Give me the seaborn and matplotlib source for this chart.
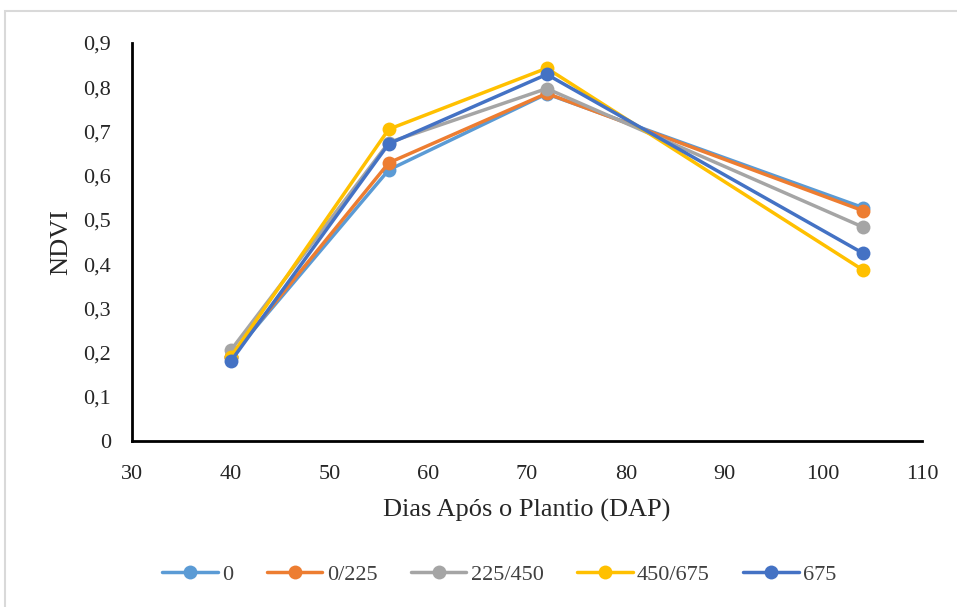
import matplotlib
matplotlib.use("Agg")
import matplotlib.pyplot as plt
import seaborn as sns
import pandas as pd
from matplotlib.ticker import FuncFormatter
from matplotlib.patches import Rectangle

dap = [40, 56, 72, 104]
series_names = ["0", "0/225", "225/450", "450/675", "675"]
ndvi_0 = [0.19, 0.613, 0.785, 0.528]
ndvi_0_225 = [0.19, 0.629, 0.786, 0.521]
ndvi_225_450 = [0.205, 0.675, 0.797, 0.484]
ndvi_450_675 = [0.19, 0.705, 0.843, 0.387]
ndvi_675 = [0.18, 0.672, 0.829, 0.425]
colors = ["#5B9BD5", "#ED7D31", "#A5A5A5", "#FFC000", "#4472C4"]

all_vals = [ndvi_0, ndvi_0_225, ndvi_225_450, ndvi_450_675, ndvi_675]
rows = []
for name, vals in zip(series_names, all_vals):
    for d, v in zip(dap, vals):
        rows.append({"DAP": d, "NDVI": v, "Trat": name})
df = pd.DataFrame(rows)

sns.set_theme(style="white")
plt.rcParams["font.family"] = ["Liberation Serif", "DejaVu Serif"]

fig = plt.figure(figsize=(9.57, 6.07), dpi=100)
ax = fig.add_axes([132 / 957, 1 - 441 / 607, (922 - 132) / 957, (441 - 43) / 607])

sns.lineplot(data=df, x="DAP", y="NDVI", hue="Trat", hue_order=series_names,
             palette=colors, marker="o", markersize=10, markeredgewidth=0,
             linewidth=2.5, ax=ax, legend=True)

ax.set_xlim(30, 110)
ax.set_ylim(0, 0.9)
ax.set_xticks(range(30, 111, 10))
ax.set_yticks([i / 10 for i in range(10)])
ax.yaxis.set_major_formatter(FuncFormatter(lambda v, p: "0" if abs(v) < 1e-9 else f"{v:.1f}".replace(".", ",")))
ax.tick_params(axis="both", labelsize=16, colors="#262626", length=0)
ax.tick_params(axis="x", pad=17)
ax.tick_params(axis="y", pad=15)
ax.set_xlabel("Dias Após o Plantio (DAP)", fontsize=19, color="#262626", labelpad=11)
ax.set_ylabel("NDVI", fontsize=19, color="#262626", labelpad=8)

for s in ["top", "right"]:
    ax.spines[s].set_visible(False)
for s in ["left", "bottom"]:
    ax.spines[s].set_color("black")
    ax.spines[s].set_linewidth(2)

handles, labels = ax.get_legend_handles_labels()
ax.legend(handles, labels, loc="center", bbox_to_anchor=(0.522, 0.053),
          bbox_transform=fig.transFigure, ncol=5, frameon=False, fontsize=16,
          handlelength=2.5, columnspacing=1.5, handletextpad=0.2, labelcolor="#404040")

fig.patches.append(Rectangle((5 / 957, -0.05), 1.0, 1 - 11 / 607 + 0.05,
                             transform=fig.transFigure, fill=False,
                             edgecolor="#D9D9D9", linewidth=1.5))

fig.savefig("out.png", dpi=100)
